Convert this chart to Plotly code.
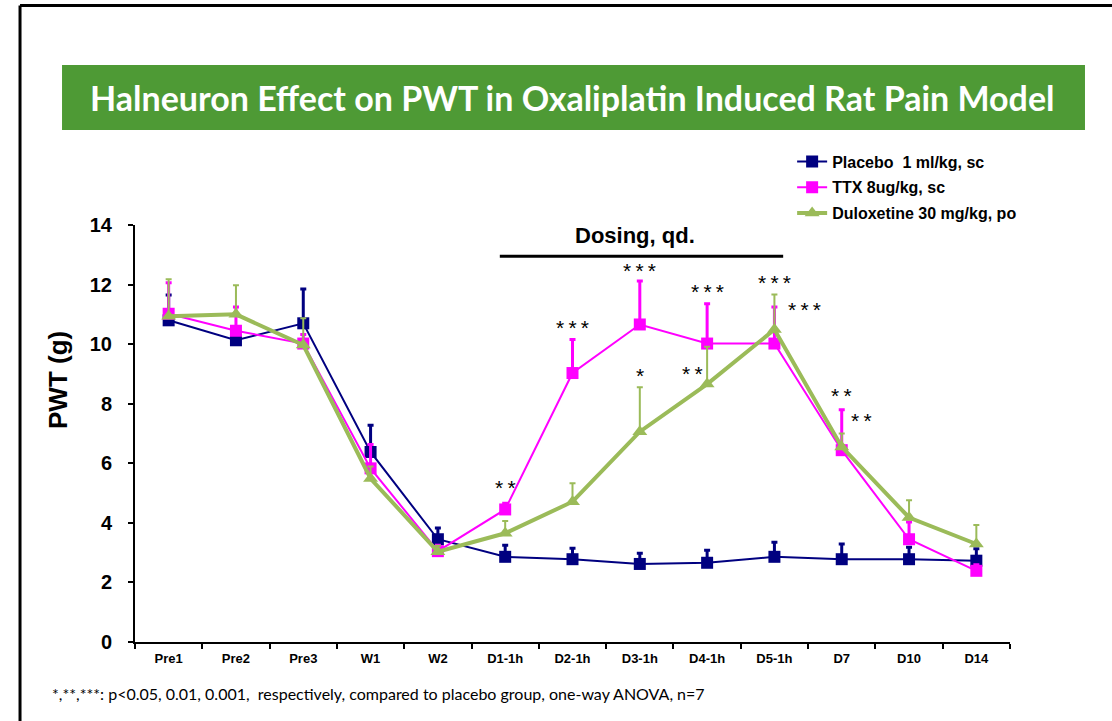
import plotly.graph_objects as go

categories = ["Pre1", "Pre2", "Pre3", "W1", "W2", "D1-1h", "D2-1h", "D3-1h", "D4-1h", "D5-1h", "D7", "D10", "D14"]

placebo = [10.8, 10.13, 10.7, 6.38, 3.45, 2.86, 2.78, 2.62, 2.66, 2.86, 2.78, 2.78, 2.73]
placebo_err = [0.85, 0.2, 1.15, 0.9, 0.38, 0.39, 0.37, 0.36, 0.42, 0.49, 0.51, 0.4, 0.4]

ttx = [11.02, 10.45, 10.02, 5.83, 3.05, 4.45, 9.03, 10.66, 10.02, 10.02, 6.44, 3.45, 2.39]
ttx_err = [1.04, 0.8, 0.3, 0.8, 0.2, 0.21, 1.13, 1.46, 1.34, 1.23, 1.36, 0.58, 0.2]

dulox = [10.94, 11.0, 9.97, 5.49, 3.03, 3.65, 4.71, 7.06, 8.66, 10.49, 6.55, 4.18, 3.29]
dulox_err = [1.24, 0.98, 0.9, 0.4, 0.2, 0.41, 0.62, 1.49, 1.25, 1.18, 0.45, 0.58, 0.64]

# significance labels: (x index, y value, text)
stars_x = [5, 6, 7, 8, 9, 9.44, 7, 7.78, 10, 10.3]
stars_y = [5.2, 10.57, 12.48, 11.78, 12.08, 11.17, 8.96, 9.03, 8.26, 7.45]
stars_t = ["**", "***", "***", "***", "***", "***", "*", "**", "**", "**"]

NAVY = "#000080"
MAGENTA = "#FF00FF"
GREEN = "#9BBB59"
SANS = "Liberation Sans"

fig = go.Figure()

def add(name, y, err, color, symbol, msize, lw, ethick, group):
    fig.add_trace(go.Scatter(
        x=categories, y=y, name="<b>" + name + "</b>", mode="lines+markers",
        legendgroup=group,
        line=dict(color=color, width=lw),
        marker=dict(color=color, symbol=symbol, size=msize),
        error_y=dict(type="data", array=err, arrayminus=[0]*len(err), symmetric=False,
                     color=color, thickness=ethick, width=3),
    ))

add("Placebo  1 ml/kg, sc", placebo, placebo_err, NAVY, "square", 12, 2, 3, "a")
add("TTX 8ug/kg, sc", ttx, ttx_err, MAGENTA, "square", 12, 2, 3, "b")
add("Duloxetine 30 mg/kg, po", dulox, dulox_err, GREEN, "triangle-up", 13, 4, 2, "c")

shapes = [
    # page border (left and top)
    dict(type="line", xref="paper", yref="paper", x0=-0.1314, x1=-0.1314, y0=1.5264, y1=-0.2, line=dict(color="black", width=3)),
    dict(type="line", xref="paper", yref="paper", x0=-0.1314, x1=1.12, y0=1.5264, y1=1.5264, line=dict(color="black", width=3)),
    # title box
    dict(type="rect", xref="paper", yref="paper", x0=-0.0834, x1=1.0857, y0=1.2278, y1=1.3837,
         fillcolor="#4E9A35", line=dict(width=0), layer="below"),
    # dosing line
    dict(type="line", xref="x", yref="y", x0=4.92, x1=9.13, y0=12.95, y1=12.95, line=dict(color="black", width=3)),
]

annotations = [
    dict(text="<b>Halneuron Effect on PWT in Oxaliplatin Induced Rat Pain Model</b>", xref="paper", yref="paper",
         x=0.5, y=1.3057, xanchor="center", yanchor="middle", showarrow=False,
         font=dict(family="Lato", size=34, color="white")),
    dict(text="<b>Dosing, qd.</b>", xref="x", yref="y", x=6.93, y=13.66, showarrow=False,
         xanchor="center", yanchor="middle", font=dict(family=SANS, size=22, color="black")),
    dict(text="*,**,***: p<0.05, 0.01, 0.001,  respectively, compared to placebo group, one-way ANOVA, n=7",
         xref="paper", yref="paper", x=(50 - 135) / 875, y=(642 - 693) / 417, xanchor="left", yanchor="middle",
         showarrow=False, font=dict(family="Lato", size=16, color="black")),
    dict(text="<b>PWT (g)</b>", xref="paper", yref="paper", x=(58 - 135) / 875, y=(642 - 380) / 417,
         xanchor="center", yanchor="middle", textangle=-90, showarrow=False,
         font=dict(family=SANS, size=26, color="black")),
]
for sx, sy, st in zip(stars_x, stars_y, stars_t):
    annotations.append(dict(text="\u2009".join(st), xref="x", yref="y", x=sx, y=sy, showarrow=False,
                            xanchor="center", yanchor="middle",
                            font=dict(family=SANS, size=21, color="black")))

fig.update_layout(
    width=1112, height=721,
    margin=dict(l=135, r=102, t=225, b=79),
    paper_bgcolor="white", plot_bgcolor="white",
    showlegend=True,
    legend=dict(x=0.751, y=1.193, xanchor="left", yanchor="top", tracegroupgap=2,
                font=dict(family=SANS, size=16, color="black"), bgcolor="rgba(0,0,0,0)",
                itemwidth=30),
    shapes=shapes, annotations=annotations,
    font=dict(family=SANS, color="black"),
)
fig.update_xaxes(
    type="category", range=[-0.5, 12.5], tickson="boundaries", ticks="outside", ticklen=5, tickwidth=2,
    tickcolor="black", showline=True, linecolor="black", linewidth=2, showgrid=False, zeroline=False,
    ticklabelstandoff=3,
    tickfont=dict(family=SANS, size=13, color="black"), tickprefix="<b>", ticksuffix="</b>",
)
fig.update_yaxes(
    range=[0, 14], dtick=2, ticks="outside", ticklen=5, tickwidth=2, tickcolor="black",
    showline=True, linecolor="black", linewidth=2, showgrid=False, zeroline=False,
    ticklabelstandoff=12,
    tickfont=dict(family=SANS, size=20, color="black"), tickprefix="<b>", ticksuffix="</b>",
)

fig.write_html("out.html", config={"displayModeBar": False},
               post_script="document.body.style.margin='0';")
